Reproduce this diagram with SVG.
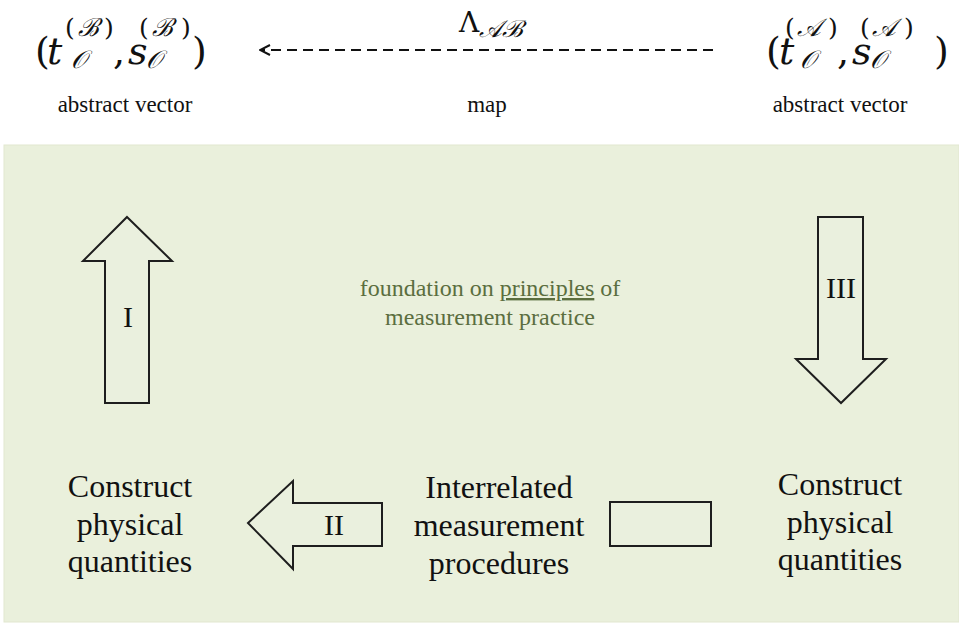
<svg xmlns="http://www.w3.org/2000/svg" width="959" height="625" viewBox="0 0 959 625">
<style>
  .t { fill: #111; }
  .lab { font-size: 23px; text-anchor: middle; }
  .big { font-size: 32px; text-anchor: middle; }
  .num { font-size: 30px; text-anchor: middle; }
  .math { fill: #111; }
  .it { font-style: italic; }
  .sup { font-size: 25px; }
  .sub { font-size: 25px; font-style: italic; }
  .blk { fill: #eaf0de; stroke: #1e1e1e; stroke-width: 2; stroke-linejoin: miter; }
  .green { fill: #5b6e3f; font-size: 24px; text-anchor: middle; }
</style>
<defs>
  <marker id="open" viewBox="0 0 12 12" refX="11" refY="6" markerWidth="12" markerHeight="12" markerUnits="userSpaceOnUse" orient="auto">
    <path d="M1,1 L11,6 L1,11" fill="none" stroke="#111" stroke-width="2"/>
  </marker>
</defs>
<rect width="959" height="625" fill="#ffffff"/>
<rect id="panel" x="4" y="145" width="955" height="477" fill="#eaf0dc" stroke="#e2e7d0" stroke-width="1"/>

<g id="vecB">
  <text class="math" font-family="DejaVu Serif" font-size="38" y="64"><tspan x="35">(</tspan><tspan class="it" x="47">t</tspan><tspan class="sub" x="71" y="68">𝒪</tspan><tspan class="sup" x="65" y="36">(</tspan><tspan class="sup it" x="78">ℬ</tspan><tspan class="sup" x="104">)</tspan><tspan x="113" y="64">,</tspan><tspan class="it" x="128">s</tspan><tspan class="sub" x="146" y="68">𝒪</tspan><tspan class="sup" x="139" y="36">(</tspan><tspan class="sup it" x="152">ℬ</tspan><tspan class="sup" x="181">)</tspan><tspan x="192" y="64">)</tspan></text>
  <text class="t lab" font-family="Liberation Serif" x="125" y="112">abstract vector</text>
</g>

<g id="vecA">
  <text class="math" font-family="DejaVu Serif" font-size="38" y="64"><tspan x="766">(</tspan><tspan class="it" x="779">t</tspan><tspan class="sub" x="800" y="68">𝒪</tspan><tspan class="sup" x="785" y="36">(</tspan><tspan class="sup it" x="797">𝒜</tspan><tspan class="sup" x="828">)</tspan><tspan x="837" y="64">,</tspan><tspan class="it" x="852">s</tspan><tspan class="sub" x="870" y="68">𝒪</tspan><tspan class="sup" x="860" y="36">(</tspan><tspan class="sup it" x="872">𝒜</tspan><tspan class="sup" x="904">)</tspan><tspan x="934" y="64">)</tspan></text>
  <text class="t lab" font-family="Liberation Serif" x="840" y="112">abstract vector</text>
</g>

<g id="connectors">
  <line x1="713" y1="50" x2="260" y2="50" stroke="#111" stroke-width="2" stroke-dasharray="10,6" marker-end="url(#open)"/>
  <text class="math" font-family="DejaVu Serif" x="459" y="32" font-size="28">Λ<tspan class="it" font-size="24" dy="5">𝒜ℬ</tspan></text>
  <text class="t lab" font-family="Liberation Serif" x="487" y="112">map</text>
</g>

<g id="arrowI">
  <polygon class="blk" points="127,217 172,261 149,261 149,403 105,403 105,261 83,261"/>
  <text class="t num" font-family="Liberation Serif" x="128" y="327">I</text>
</g>

<g id="arrowIII">
  <polygon class="blk" points="818,217 863,217 863,359 886,359 841,403 796,359 818,359"/>
  <text class="t num" font-family="Liberation Serif" x="841" y="298">III</text>
</g>

<g id="arrowII">
  <polygon class="blk" points="248,523 293,481 293,503 382,503 382,546 293,546 293,569"/>
  <text class="t num" font-family="Liberation Serif" x="334" y="535">II</text>
</g>

<g id="box">
  <rect class="blk" x="610" y="502" width="101" height="44"/>
</g>

<g id="foundation">
  <text class="green" font-family="Liberation Serif" x="490" y="296">foundation on <tspan text-decoration="underline">principles</tspan> of</text>
  <text class="green" font-family="Liberation Serif" x="490" y="325">measurement practice</text>
</g>

<g id="constructB">
  <text class="t big" font-family="Liberation Serif" x="130" y="497">Construct</text>
  <text class="t big" font-family="Liberation Serif" x="130" y="535">physical</text>
  <text class="t big" font-family="Liberation Serif" x="130" y="572">quantities</text>
</g>

<g id="procedures">
  <text class="t big" font-family="Liberation Serif" x="499" y="498">Interrelated</text>
  <text class="t big" font-family="Liberation Serif" x="499" y="536">measurement</text>
  <text class="t big" font-family="Liberation Serif" x="499" y="574">procedures</text>
</g>

<g id="constructA">
  <text class="t big" font-family="Liberation Serif" x="840" y="495">Construct</text>
  <text class="t big" font-family="Liberation Serif" x="840" y="533">physical</text>
  <text class="t big" font-family="Liberation Serif" x="840" y="570">quantities</text>
</g>
</svg>
